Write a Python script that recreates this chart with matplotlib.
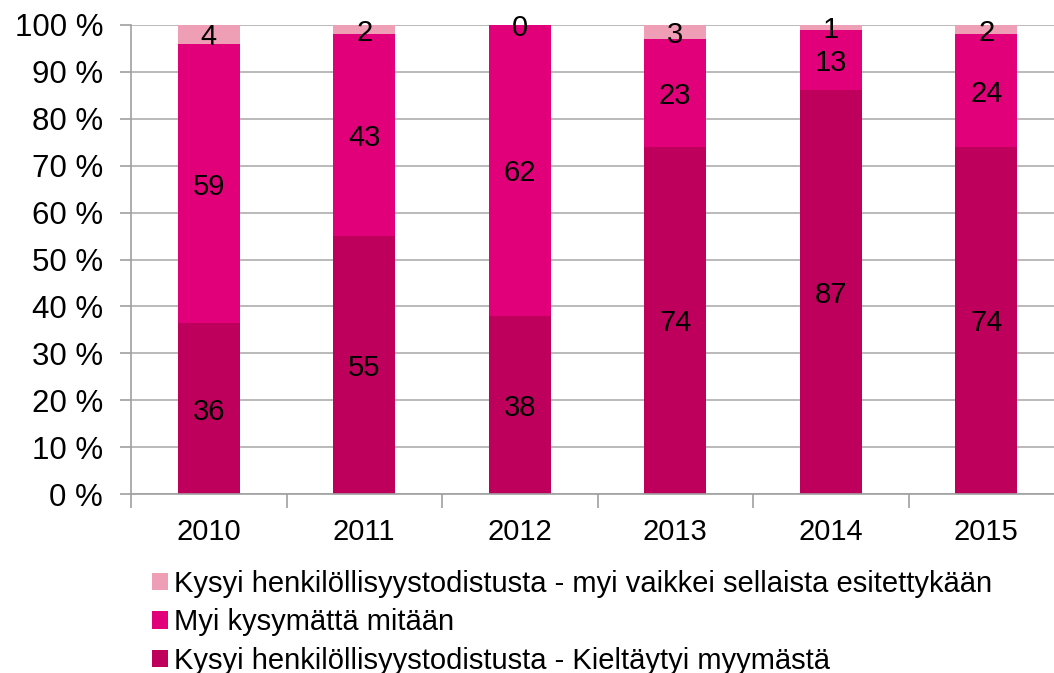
import numpy as np
import matplotlib.pyplot as plt
from matplotlib.patches import Patch

plt.rcParams['font.family'] = ['Liberation Sans', 'DejaVu Sans']

# data (counts shown in labels, drawn as share of 100 %)
years = ['2010', '2011', '2012', '2013', '2014', '2015']
refused = [36, 55, 38, 74, 87, 74]
sold_no_ask = [59, 43, 62, 23, 13, 24]
asked_sold = [4, 2, 0, 3, 1, 2]

series_names = [
    'Kysyi henkilöllisyystodistusta - Kieltäytyi myymästä',
    'Myi kysymättä mitään',
    'Kysyi henkilöllisyystodistusta - myi vaikkei sellaista esitettykään',
]
colors = ['#BE005C', '#E2007A', '#EE9FB5']

series = [np.array(refused, float), np.array(sold_no_ask, float), np.array(asked_sold, float)]
totals = series[0] + series[1] + series[2]

fig = plt.figure(figsize=(10.54, 6.73), dpi=100)
W, H = 1054, 673
ax = fig.add_axes([131 / W, 1 - 494 / H, (1064 - 131) / W, (494 - 25) / H])

x = np.arange(len(years))
bottom = np.zeros(len(years))
for vals, col in zip(series, colors):
    share = vals / totals * 100
    ax.bar(x, share, width=0.4, bottom=bottom, color=col, zorder=2)
    for xi, b, s, v in zip(x, bottom, share, vals):
        ax.text(xi, b + s / 2, f'{int(v)}', ha='center', va='center_baseline',
                fontsize=21, color='black', zorder=3)
    bottom += share

ax.set_xlim(-0.5, len(years) - 0.5)
ax.set_ylim(0, 100)
ax.set_yticks(range(0, 101, 10))
ax.set_yticklabels([f'{v} %' for v in range(0, 101, 10)], fontsize=22.5)
ax.set_xticks(x)
ax.set_xticklabels(years, fontsize=21)
ax.set_xticks(np.arange(-0.5, len(years), 1), minor=True)
ax.tick_params(axis='x', which='major', length=0, pad=17)
ax.tick_params(axis='x', which='minor', length=10, color='#A0A0A0', width=1.2)
ax.tick_params(axis='y', length=8, color='#A0A0A0', width=1.2, pad=12)

ax.yaxis.grid(True, color='#B4B4B4', linewidth=1.3, zorder=0)
ax.set_axisbelow(True)
for side in ['top', 'right']:
    ax.spines[side].set_visible(False)
for side in ['left', 'bottom']:
    ax.spines[side].set_color('#A0A0A0')
    ax.spines[side].set_linewidth(1.2)

handles = [Patch(facecolor=c, edgecolor='none') for c in colors][::-1]
fig.legend(handles, series_names[::-1], loc='upper left',
           bbox_to_anchor=(140 / W, 1 - 558 / H), frameon=False,
           fontsize=21, handlelength=0.55, handleheight=0.55,
           handletextpad=0.2, labelspacing=0.36, borderaxespad=0)

fig.savefig('out.png', dpi=100)
